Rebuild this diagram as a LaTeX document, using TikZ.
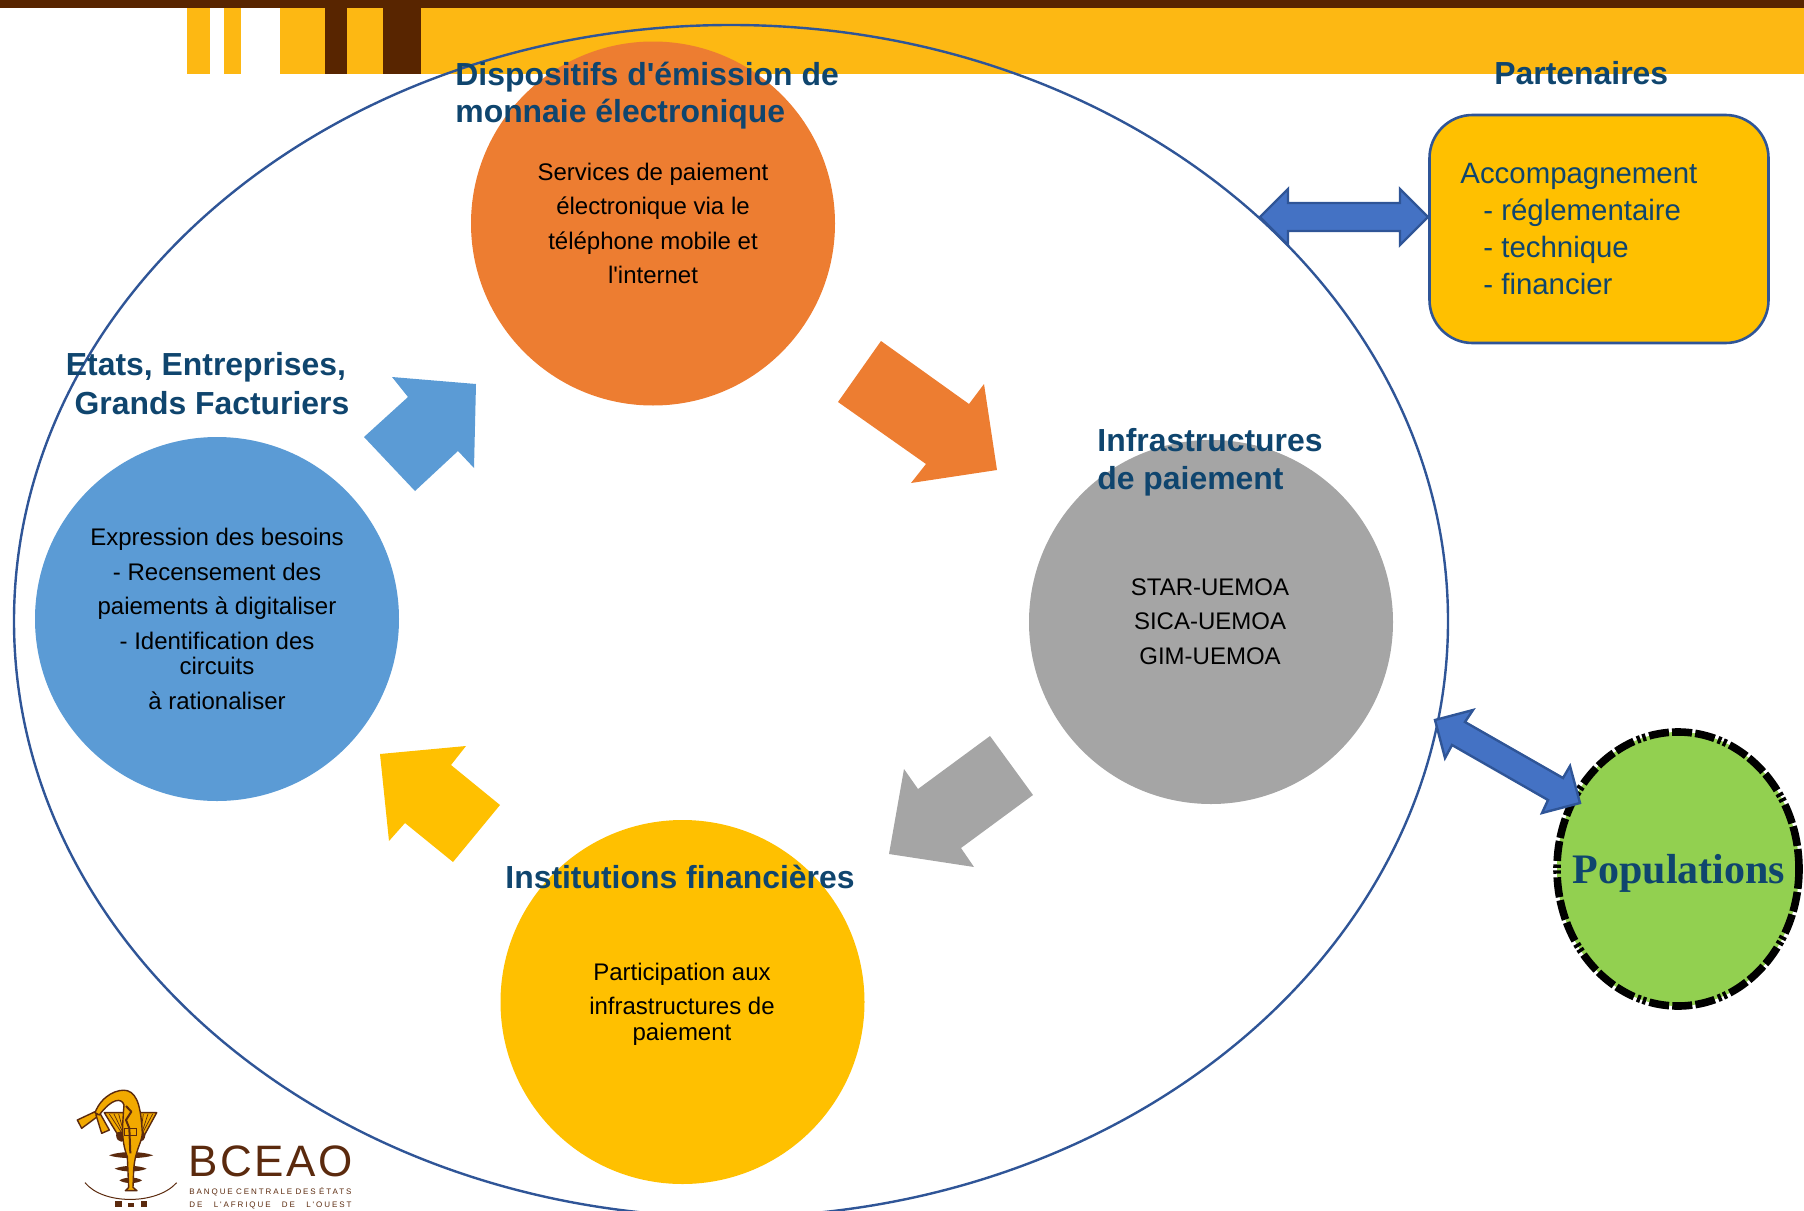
\documentclass[tikz,border=0pt]{standalone}
\usepackage{fontspec}
\usetikzlibrary{shapes.geometric}
\setmainfont{Liberation Sans}
\newfontfamily\ar{Liberation Sans}
\newfontfamily\popfont{Liberation Serif}
\newfontfamily\logofontA[LetterSpace=6]{Liberation Sans}
\newfontfamily\logofontB[LetterSpace=24]{Liberation Sans}
\definecolor{hdrY}{HTML}{FDB813}
\definecolor{hdrB}{HTML}{582500}
\definecolor{cOrange}{HTML}{ED7D31}
\definecolor{cBlue}{HTML}{5B9BD5}
\definecolor{cGray}{HTML}{A5A5A5}
\definecolor{cYellow}{HTML}{FFC000}
\definecolor{cGreen}{HTML}{92D050}
\definecolor{lineB}{HTML}{2F5597}
\definecolor{arrB}{HTML}{4472C4}
\definecolor{head}{HTML}{0F456E}
\definecolor{logoB}{HTML}{5B2A0E}
\definecolor{logoY}{HTML}{F2A900}
\newlength{\unitpt}\setlength{\unitpt}{0.5pt}
\tikzset{
  bigcircle/.style={circle,minimum size=364\unitpt,inner sep=0pt,draw=none},
  headtext/.style={font=\ar\fontsize{15.95}{18}\selectfont\bfseries,text=head,inner sep=0pt,anchor=base west},
  headmid/.style={headtext,anchor=base},
  bodytext/.style={font=\ar\fontsize{12}{17.25}\selectfont,text=black,inner sep=0pt,anchor=north,align=center},
  partext/.style={font=\ar\fontsize{14.7}{18.5}\selectfont,text=head,inner sep=0pt,anchor=north west,align=left},
  dblarrow/.style={fill=arrB,draw=lineB,line width=1.2pt,line join=miter},
  logoshape/.style={fill=logoY,draw=logoB,line width=0.7pt,line join=round},
  logosmall/.style={inner sep=0pt,anchor=base west,text=logoB,font=\logofontB\fontsize{4}{5}\selectfont},
}
\begin{document}
\begin{tikzpicture}[x=0.5pt,y=-0.5pt]
\clip (0,0) rectangle (1804,1210);
\useasboundingbox (0,0) rectangle (1804,1210);
% header
\fill[hdrB] (0,0) rectangle (1804,8);
\fill[hdrY] (187,8) rectangle (210,74);
\fill[hdrY] (224,8) rectangle (241,74);
\fill[hdrY] (280,8) rectangle (1804,74);
\fill[hdrB] (325,8) rectangle (347,74);
\fill[hdrB] (383,8) rectangle (421,74);
% main ellipse
\node[ellipse,minimum width=1434\unitpt,minimum height=1192\unitpt,inner sep=0pt,draw=lineB,line width=1.2pt] (cycle) at (731,621) {};
% circles
\node[bigcircle,fill=cOrange] (disp) at (653,223.5) {};
\node[bigcircle,fill=cBlue] (etats) at (217,619) {};
\node[bigcircle,fill=cGray] (infra) at (1211,622) {};
\node[bigcircle,fill=cYellow] (inst) at (682.5,1002) {};
% block arrows
\fill[cOrange] (881,341) -- (969,404) -- (984,384) -- (997,470) -- (911,483) -- (926,464) -- (838,402) -- cycle;
\fill[cBlue] (364,437) -- (415,491) -- (458,451) -- (474,468) -- (476,384) -- (392,377) -- (408,397) -- cycle;
\fill[cYellow] (500,805) -- (453,862) -- (405,823) -- (389,841) -- (380,754) -- (466,746) -- (451,765) -- cycle;
\fill[cGray] (990,736) -- (1033,795) -- (961,848) -- (974,867) -- (889,854) -- (904,769) -- (918,789) -- cycle;
% partner box
\node[rounded corners=21.5pt,minimum width=339\unitpt,minimum height=228\unitpt,inner sep=0pt,fill=cYellow,draw=lineB,line width=1.3pt] (part) at (1599,229) {};
\node[partext] (parttxt) at (1460,163) {Accompagnement\\\hspace*{11.5pt}- réglementaire\\\hspace*{11.5pt}- technique\\\hspace*{11.5pt}- financier};
% populations
\node[ellipse,minimum width=242\unitpt,minimum height=274\unitpt,inner sep=0pt,fill=cGreen,draw=black,line width=3.8pt,
  dash pattern=on 10pt off 1.6pt on 10pt off 1.6pt on 10pt off 1.8pt on 1.7pt off 1.2pt on 1.7pt off 1.8pt] (pop) at (1678,869) {};
\node[font=\popfont\fontsize{21}{24}\selectfont\bfseries,text=head,inner sep=0pt] (poptxt) at (1679,873) {Populations};
% double arrows
\path[dblarrow] (1260,217) -- (1288,189) -- (1288,203) -- (1400,203) -- (1400,189) -- (1428,217) -- (1400,245) -- (1400,231) -- (1288,231) -- (1288,245) -- cycle;
\path[dblarrow] (1435,720) -- (1473,710) -- (1465,722) -- (1563,778) -- (1570,766) -- (1580,803) -- (1542,813) -- (1548,800) -- (1452,745) -- (1445,758) -- cycle;
% headings
\node[headtext] (h1a) at (455,85) {Dispositifs d'émission de};
\node[headtext] (h1b) at (455,122) {monnaie électronique};
\node[headtext] (h2) at (1494,84) {Partenaires};
\node[headmid] (h3a) at (206,375) {Etats, Entreprises,};
\node[headmid] (h3b) at (212,414) {Grands Facturiers};
\node[headtext] (h4a) at (1097,451) {Infrastructures};
\node[headtext] (h4b) at (1097,489) {de paiement};
\node[headtext] (h5) at (505,888) {Institutions financières};
% body texts
\node[bodytext] (b1) at (653,162.5) {Services de paiement\\électronique via le\\téléphone mobile et\\l'internet};
\node[bodytext] (b2) at (217,528) {Expression des besoins\\- Recensement des\\paiements à digitaliser\\- Identification des\\[-4.5pt]circuits\\à rationaliser};
\node[bodytext] (b3) at (1210,578) {STAR-UEMOA\\SICA-UEMOA\\GIM-UEMOA};
\node[bodytext] (b4) at (682,962.5) {Participation aux\\infrastructures de\\[-4.5pt]paiement};
% logo
\begin{scope}[shift={(40,1070)},x=0.16667pt,y=-0.16667pt]
  % side triangles
  \path[logoshape] (193,128) -- (252,128) -- (258,205) -- (240,205) -- cycle;
  \path[logoshape] (295,128) -- (350,128) -- (308,205) -- (296,205) -- cycle;
  \foreach \xa/\xb in {208/246,222/250,236/252,310/302,324/305,338/307}{\draw[logoB,line width=0.35pt] (\xa,132) -- (\xb,190);}
  % ears
  \fill[logoB] (228,195) .. controls (228,180) and (258,180) .. (258,200) .. controls (258,220) and (230,222) .. (228,195) -- cycle;
  \fill[logoB] (316,195) .. controls (316,180) and (286,180) .. (286,200) .. controls (286,220) and (314,222) .. (316,195) -- cycle;
  % bars
  \fill[logoB] (207,256) .. controls (240,243) and (305,243) .. (340,256) .. controls (305,267) and (240,267) .. (207,256) -- cycle;
  \fill[logoB] (224,296) .. controls (250,285) and (295,285) .. (320,296) .. controls (295,307) and (250,307) .. (224,296) -- cycle;
  \fill[logoB] (238,331) .. controls (255,320) and (290,320) .. (306,331) .. controls (290,342) and (255,342) .. (238,331) -- cycle;
  % fan
  \path[logoshape] (112,150) -- (165,125) -- (172,140) -- (125,175) -- cycle;
  \path[logoshape] (168,135) -- (180,130) -- (208,180) -- (185,190) -- cycle;
  % tube and body
  \path[logoshape] (165,128) .. controls (185,75) and (235,55) .. (262,62) .. controls (295,72) and (303,120) .. (307,190) .. controls (305,220) and (285,240) .. (281,300) -- (279,352) -- (291,362) -- (256,362) -- (266,352) -- (262,260) .. controls (240,205) and (250,150) .. (250,130) -- (252,105) .. controls (245,82) and (215,85) .. (178,135) -- cycle;
  \draw[logoB,line width=1pt,line join=round] (258,108) -- (274,125) -- (258,150) -- (268,175) -- (271,250);
  \draw[logoB,line width=0.45pt] (254,175) rectangle (288,197);
  % arc and feet
  \draw[logoB,line width=0.5pt] (135,338) .. controls (190,405) and (350,405) .. (410,338);
  \fill[logoB] (224,393) rectangle (245,410);
  \fill[logoB] (264,398) rectangle (282,410);
  \fill[logoB] (302,393) rectangle (322,410);
  % name
  \node[inner sep=0pt,anchor=base west,text=logoB,font=\logofontA\fontsize{22}{24}\selectfont] (logoname) at (443,318) {BCEAO};
  \node[logosmall] (logoa) at (447,374) {\makebox[81pt][s]{BANQUE CENTRALE DES ÉTATS}};
  \node[logosmall] (logob) at (447,412) {\makebox[81pt][s]{DE L'AFRIQUE DE L'OUEST}};
\end{scope}
\end{tikzpicture}
\end{document}
